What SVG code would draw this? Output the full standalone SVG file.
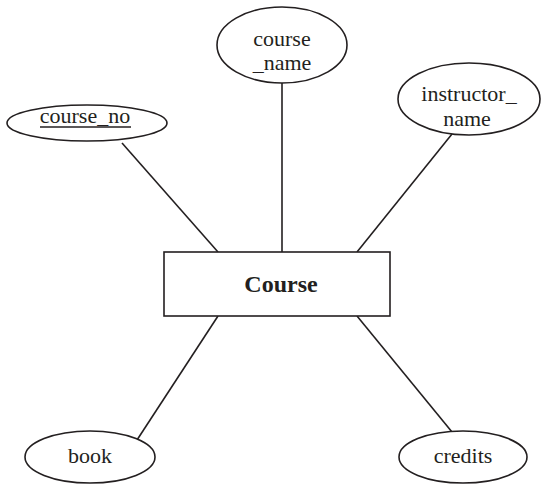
<svg xmlns="http://www.w3.org/2000/svg" width="543" height="487" viewBox="0 0 543 487">
  <style>
    .attr ellipse { fill: #ffffff; stroke: #231f20; stroke-width: 1.6; }
    .entity rect { fill: #ffffff; stroke: #231f20; stroke-width: 1.6; }
    text { font-family: "Liberation Serif", "DejaVu Serif", serif; font-size: 22px; fill: #231f20; text-anchor: middle; }
    .bold { font-weight: bold; font-size: 24px; }
    #links line { stroke: #231f20; stroke-width: 1.6; }
  </style>
  <rect width="543" height="487" fill="#ffffff"/>

  <!-- connectors between the entity and its attributes -->
  <g id="links">
    <line x1="122" y1="143" x2="218" y2="252"/>
    <line x1="282" y1="83" x2="282" y2="252"/>
    <line x1="452" y1="134" x2="357" y2="252"/>
    <line x1="218" y1="316" x2="137" y2="440"/>
    <line x1="357" y1="316" x2="452" y2="432"/>
  </g>

  <!-- entity -->
  <g id="course" class="entity">
    <rect x="164" y="252" width="226" height="64"/>
    <text class="bold" x="281" y="292">Course</text>
  </g>

  <!-- attributes -->
  <g id="course_no" class="attr">
    <ellipse cx="87" cy="123" rx="80" ry="18"/>
    <text x="85" y="123">course_no</text>
    <line x1="40" y1="127" x2="131" y2="127" stroke="#231f20" stroke-width="1.5"/>
  </g>

  <g id="course_name" class="attr">
    <ellipse cx="282" cy="45" rx="65" ry="38"/>
    <text x="282" y="46">course</text>
    <text x="282" y="70">_name</text>
  </g>

  <g id="instructor_name" class="attr">
    <ellipse cx="469" cy="99" rx="71" ry="36"/>
    <text x="469" y="101">instructor_</text>
    <text x="467" y="126">name</text>
  </g>

  <g id="book" class="attr">
    <ellipse cx="90" cy="457" rx="65" ry="26"/>
    <text x="90" y="463">book</text>
  </g>

  <g id="credits" class="attr">
    <ellipse cx="463" cy="457" rx="64" ry="26"/>
    <text x="463" y="463">credits</text>
  </g>
</svg>
